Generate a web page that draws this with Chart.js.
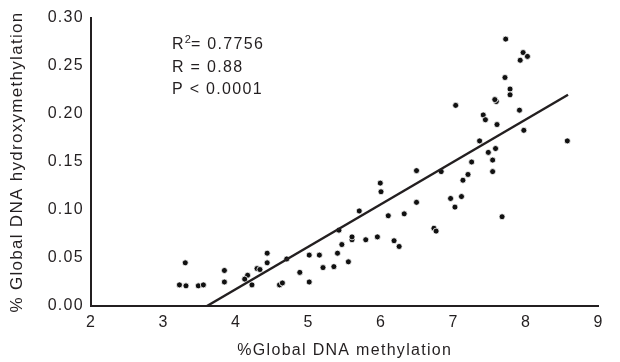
<!DOCTYPE html>
<html>
<head>
<meta charset="utf-8">
<script src="https://cdn.jsdelivr.net/npm/chart.js@4/dist/chart.umd.min.js"></script>
<style>
    html, body { margin: 0; padding: 0; background: #fff; }
    #wrap { width: 620px; height: 362px; position: relative; }
</style>
</head>
<body>
<div id="wrap"><canvas id="scatterChart"></canvas></div>
<script>
// measured samples: global DNA methylation (%) vs hydroxymethylation (%)
const methylation = [
    3.30, 3.22, 3.31, 3.48, 3.55, 3.84, 3.84, 4.16, 4.12, 4.22,
    4.29, 4.33, 4.43, 4.43, 4.70, 4.60, 4.64, 4.88, 5.01, 5.01,
    5.15, 5.20, 5.35, 5.55, 5.40, 5.46, 5.60, 5.60, 5.42, 5.79,
    5.70, 5.95, 5.99, 6.00, 6.10, 6.18, 6.25, 6.32, 6.49, 6.49,
    6.73, 6.76, 6.83, 6.96, 7.02, 7.11, 7.13, 7.20, 7.25, 7.54,
    7.54, 7.72, 7.96, 8.02, 7.92, 7.71, 7.78, 7.78, 7.59, 7.57,
    7.91, 7.41, 7.44, 7.60, 7.97, 7.36, 7.48, 7.58, 8.57, 7.67,
    7.03
];
const hydroxymethylation = [
    0.045, 0.022, 0.021, 0.021, 0.022, 0.037, 0.025, 0.032, 0.028, 0.022,
    0.039, 0.038, 0.055, 0.045, 0.049, 0.022, 0.024, 0.035, 0.053, 0.025,
    0.053, 0.040, 0.041, 0.046, 0.055, 0.064, 0.069, 0.072, 0.079, 0.069,
    0.099, 0.072, 0.128, 0.119, 0.094, 0.068, 0.062, 0.096, 0.141, 0.108,
    0.081, 0.078, 0.140, 0.112, 0.103, 0.114, 0.131, 0.137, 0.150, 0.140,
    0.152, 0.278, 0.264, 0.260, 0.256, 0.238, 0.226, 0.220, 0.213, 0.215,
    0.204, 0.199, 0.194, 0.189, 0.183, 0.172, 0.160, 0.164, 0.172, 0.093,
    0.209
];

// regression line end points
const fitX = [3.60, 8.58];
const fitY = [0.0, 0.220];

const xTicks = [2, 3, 4, 5, 6, 7, 8, 9];
const yTicks = [0, 0.05, 0.10, 0.15, 0.20, 0.25, 0.30];

// first row gets a superscript 2 after the R
const statsLines = ['= 0.7756', 'R = 0.88', 'P < 0.0001'];

const inkColor = '#231f20';
const fontFamily = '"Liberation Sans", Arial, Helvetica, sans-serif';

const points = methylation.map((x, i) => ({ x: x, y: hydroxymethylation[i] }));
const fitLine = fitX.map((x, i) => ({ x: x, y: fitY[i] }));

// the original lettering is a bit wide, so space the glyphs out
const letterSpacingPlugin = {
    id: 'letterSpacing',
    beforeDraw(chart) {
        chart.ctx.letterSpacing = '1.3px';
    }
};

// R / P values in the upper left corner
const statsPlugin = {
    id: 'statsText',
    afterDraw(chart) {
        const ctx = chart.ctx;
        ctx.save();
        ctx.letterSpacing = '1.3px';
        ctx.fillStyle = inkColor;
        ctx.textAlign = 'left';
        ctx.textBaseline = 'middle';
        const left = 172;
        const rows = [45, 68, 90];

        // R^2 by hand
        ctx.font = '16px ' + fontFamily;
        ctx.fillText('R', left, rows[0]);
        let x = left + ctx.measureText('R').width;
        ctx.font = '11px ' + fontFamily;
        ctx.letterSpacing = '0px';
        ctx.fillText('2', x, rows[0] - 5);
        x += ctx.measureText('2').width;
        ctx.letterSpacing = '1.3px';
        ctx.font = '16px ' + fontFamily;
        ctx.fillText(statsLines[0], x, rows[0]);

        ctx.fillText(statsLines[1], left, rows[1]);
        ctx.fillText(statsLines[2], left, rows[2]);
        ctx.restore();
    }
};

const ctx = document.getElementById('scatterChart').getContext('2d');

new Chart(ctx, {
    type: 'scatter',
    data: {
        datasets: [
            {
                type: 'line',
                data: fitLine,
                borderColor: inkColor,
                borderWidth: 2.4,
                pointRadius: 0,
                fill: false,
                order: 0
            },
            {
                data: points,
                backgroundColor: '#111',
                borderColor: '#fff',
                borderWidth: 0.8,
                pointRadius: 3,
                order: 1
            }
        ]
    },
    options: {
        responsive: true,
        maintainAspectRatio: false,
        animation: false,
        layout: {
            padding: { left: 0, right: 21.5, top: 18, bottom: 0 }
        },
        plugins: {
            legend: { display: false },
            tooltip: { enabled: false }
        },
        scales: {
            x: {
                type: 'linear',
                min: 2,
                max: 9,
                afterBuildTicks: function(scale) {
                    scale.ticks = xTicks.map(v => ({ value: v }));
                },
                afterFit: function(scale) {
                    scale.height = 56;
                },
                ticks: {
                    color: inkColor,
                    padding: 7,
                    font: { family: fontFamily, size: 16 }
                },
                grid: { display: false, drawTicks: false },
                border: { display: true, color: inkColor, width: 2 },
                title: {
                    display: true,
                    text: '%Global DNA methylation',
                    color: inkColor,
                    font: { family: fontFamily, size: 16 },
                    padding: { top: 0, bottom: 2 }
                }
            },
            y: {
                min: 0,
                max: 0.3,
                afterBuildTicks: function(scale) {
                    scale.ticks = yTicks.map(v => ({ value: v }));
                },
                afterFit: function(scale) {
                    scale.width = 91;
                },
                ticks: {
                    color: inkColor,
                    padding: 7,
                    font: { family: fontFamily, size: 16 },
                    callback: function(value) {
                        return Number(value).toFixed(2);
                    }
                },
                grid: { display: false, drawTicks: false },
                border: { display: true, color: inkColor, width: 2 },
                title: {
                    display: true,
                    text: '% Global DNA hydroxymethylation',
                    color: inkColor,
                    font: { family: fontFamily, size: 17 },
                    padding: { top: 7, bottom: 0 }
                }
            }
        }
    },
    plugins: [letterSpacingPlugin, statsPlugin]
});
</script>
</body>
</html>
